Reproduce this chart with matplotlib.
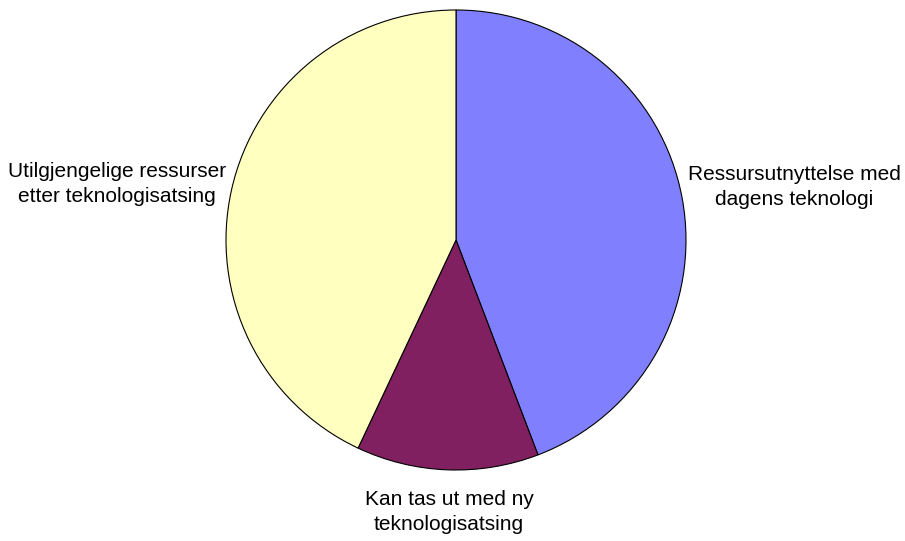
import matplotlib.pyplot as plt

labels = ["Ressursutnyttelse med\ndagens teknologi",
          "Kan tas ut med ny\nteknologisatsing",
          "Utilgjengelige ressurser\netter teknologisatsing"]
values = [44.2, 12.8, 43.0]
colors = ["#8080FF", "#802060", "#FFFFC0"]

W, H = 905, 541
fig = plt.figure(figsize=(W / 100, H / 100), dpi=100)
ax = fig.add_axes([0, 0, 1, 1])

ax.pie(values, colors=colors, startangle=90, counterclock=False,
       center=(456, H - 240), radius=230, frame=True,
       wedgeprops=dict(edgecolor="black", linewidth=0.8))
ax.set_xlim(0, W)
ax.set_ylim(0, H)
ax.set_aspect("equal")
ax.axis("off")

label_pos = [(794, H - 187), (449, H - 512), (117, H - 184)]
for text, (x, y) in zip(labels, label_pos):
    ax.text(x, y, text, ha="center", va="center", fontsize=15,
            family="Liberation Sans", linespacing=1.4)

fig.savefig("out.png", dpi=100)
